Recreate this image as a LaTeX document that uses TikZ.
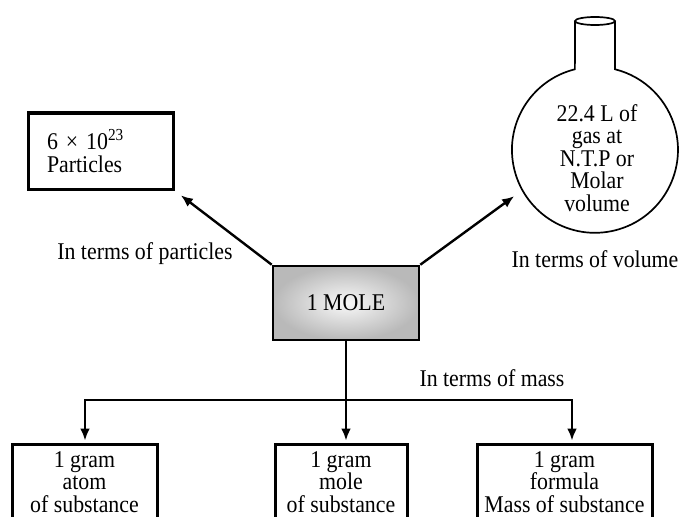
\documentclass[tikz,border=0pt]{standalone}
\usepackage{fontspec}
\setmainfont[FakeStretch=0.91]{Liberation Serif}
\usetikzlibrary{arrows.meta, positioning}

\begin{document}
\begin{tikzpicture}[x=1pt,y=-1pt,font=\fontsize{24}{22.5}\selectfont,
    box/.style={draw,line width=3pt,inner sep=0pt},
    arr/.style={line width=2.4pt,-{Latex[length=12pt,width=10pt]}},
    flask/.style={line width=1.7pt}]
  \useasboundingbox (0,0) rectangle (679,516);
  \clip (0,0) rectangle (679,516);
  \node[box,text width=107pt,inner xsep=19pt,minimum height=76pt,align=left] (part) at (100.5,151) {6 × 10\textsuperscript{23}\\Particles};
  \node[box,line width=2.6pt,minimum width=146pt,minimum height=74pt,inner color=gray!5,outer color=gray!55] (mole) at (346,303) {1 MOLE};
  \node[circle,minimum size=166pt,inner sep=0pt] (bulb) at (595,150) {};
  \draw[flask] (575,21) -- (bulb.104) arc[start angle=104,end angle=436,radius=83pt] -- (615,21);
  \draw[flask] (595,21) ellipse [x radius=20pt,y radius=4pt];
  \node[align=center] (vol) at (597,158) {22.4 L of\\gas at\\N.T.P or\\Molar\\volume};
  \draw[arr,shorten >=8pt] (mole.north west) -- (part.south east);
  \draw[arr,shorten >=10pt] (mole.north east) -- (bulb.209);
  \node (lblpart) at (145,254) {In terms of particles};
  \node (lblvol) at (595,259) {In terms of volume};
  \node (lblmass) at (492,378) {In terms of mass};
  \node[box,minimum width=145pt,minimum height=76pt,align=center] (atom) at (84.5,482) {1 gram\\atom\\of substance};
  \node[box,minimum width=132pt,minimum height=76pt,align=center] (molsub) at (341,482) {1 gram\\mole\\of substance};
  \node[box,minimum width=175pt,minimum height=76pt,align=center] (fmass) at (564.5,482) {1 gram\\formula\\Mass of substance};
  \coordinate (lft) at (85,400);
  \coordinate (rgt) at (572,400);
  \draw[line width=2.4pt,line cap=rect] (lft) -- (rgt);
  \draw[arr,shorten >=2pt] (mole.south) -- (mole.south |- molsub.north);
  \draw[arr,shorten >=2pt] (lft) -- (lft |- atom.north);
  \draw[arr,shorten >=2pt] (rgt) -- (rgt |- fmass.north);
\end{tikzpicture}
\end{document}
